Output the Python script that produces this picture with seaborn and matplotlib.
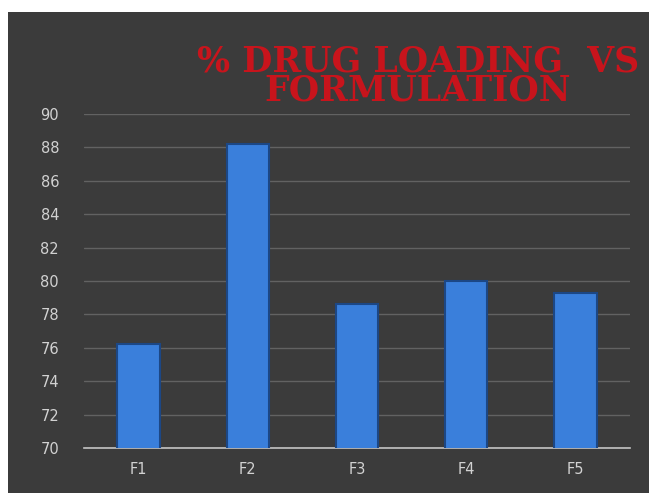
import matplotlib
matplotlib.use("Agg")
import matplotlib.pyplot as plt
import seaborn as sns
import pandas as pd
from matplotlib.patches import Rectangle

formulations = ["F1", "F2", "F3", "F4", "F5"]
drug_loading = [76.2, 88.2, 78.6, 80.0, 79.3]
y_ticks = [70, 72, 74, 76, 78, 80, 82, 84, 86, 88, 90]
title_text = "% DRUG LOADING  VS\nFORMULATION"

df = pd.DataFrame({"Formulation": formulations, "Loading": drug_loading})

sns.set_theme(style="dark")
fig = plt.figure(figsize=(6.49, 4.93), dpi=100, facecolor="white")
# dark panel behind everything
bg = Rectangle((8 / 649, 0), 1 - 8 / 649, 1 - 12 / 493,
               transform=fig.transFigure, facecolor="#3b3b3b",
               edgecolor="none", zorder=-10)
fig.add_artist(bg)

ax = fig.add_axes([84 / 649, 1 - 448 / 493, (630 - 84) / 649, (448 - 114) / 493])
ax.set_facecolor("none")
ax.set_zorder(1)

sns.barplot(data=df, x="Formulation", y="Loading", ax=ax, color="#3a7fdb",
            saturation=1, width=0.39, edgecolor="#1c4785", linewidth=1.5, zorder=3)

ax.set_ylim(70, 90)
ax.set_yticks(y_ticks)
ax.set_yticklabels([str(t) for t in y_ticks], color="#d2d2d2", fontsize=10.5)
ax.tick_params(axis="x", colors="#d2d2d2", labelsize=10.5, length=0, pad=10)
ax.tick_params(axis="y", length=0, pad=18)
ax.set_xlabel("")
ax.set_ylabel("")
ax.grid(axis="y", color="#626262", linewidth=1, zorder=0)
ax.grid(axis="x", visible=False)
for s in ["top", "right", "left"]:
    ax.spines[s].set_visible(False)
ax.spines["bottom"].set_color("#c4c4c4")
ax.spines["bottom"].set_linewidth(1.2)

fig.text(418 / 649, 1 - 76 / 493, title_text, ha="center", va="center",
         color="#c8141c", fontsize=25, fontweight="bold", family="DejaVu Serif",
         linespacing=0.8, zorder=5)

fig.savefig("out.png", dpi=100, facecolor=fig.get_facecolor())
